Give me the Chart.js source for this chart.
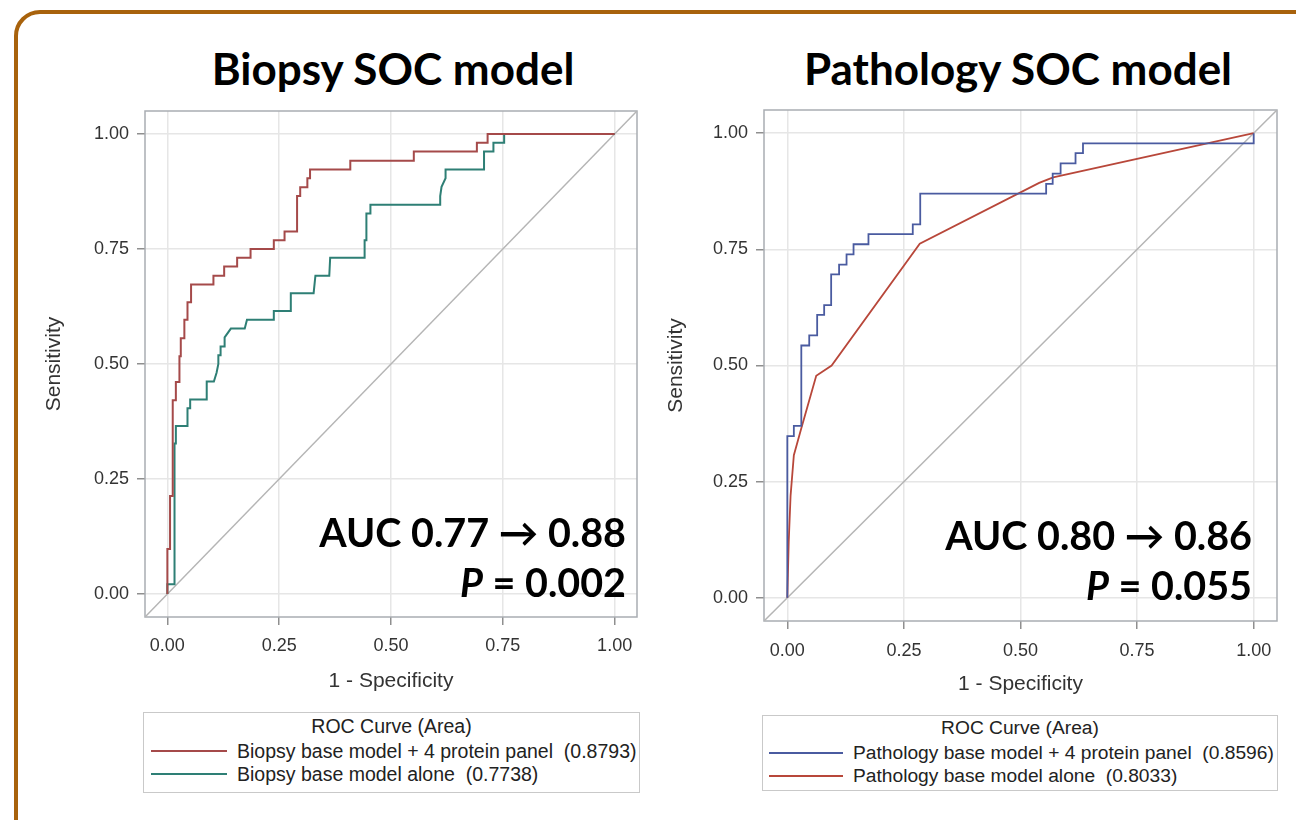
<!DOCTYPE html>
<html>
<head>
<meta charset="utf-8">
<script src="https://cdn.jsdelivr.net/npm/chart.js@4.4.1/dist/chart.umd.min.js"></script>
<style>
  body { margin: 0; width: 1296px; height: 820px; overflow: hidden; background: #fff; font-family: "Liberation Sans", Arial, sans-serif; }
  #border { position: absolute; left: 14px; top: 10px; width: 1400px; height: 900px; border: 4px solid #a8620c; border-radius: 26px; box-sizing: border-box; }
  .title { position: absolute; top: 40px; width: 600px; text-align: center; font: bold 44px Lato, "Open Sans", sans-serif; color: #000; line-height: 56px; }
  canvas { position: absolute; }
  .auc { position: absolute; width: 420px; text-align: right; font: bold 39.5px Lato, "Open Sans", sans-serif; color: #000; line-height: 50px; }
  .legend { position: absolute; border: 1px solid #c9c9c9; box-sizing: border-box; font-size: 19.5px; color: #222; }
  .legend .head { position: absolute; left: 0; right: 0; text-align: center; line-height: 22px; }
  .legend .item { position: absolute; line-height: 22px; white-space: pre; }
  .legend .swatch { position: absolute; height: 0; border-top: 2px solid; }
</style>
</head>
<body>
<div id="border"></div>

<div class="title" style="left:93px;">Biopsy SOC model</div>
<div class="title" style="left:718px;">Pathology SOC model</div>

<canvas id="left" width="640" height="600" style="left:20px; top:100px;"></canvas>
<canvas id="right" width="640" height="600" style="left:656px; top:100px;"></canvas>

<div class="auc" style="left:206px; top:507px;">AUC 0.77 → 0.88<br><i>P</i> = 0.002</div>
<div class="auc" style="left:832px; top:510px;">AUC 0.80 → 0.86<br><i>P</i> = 0.055</div>

<div class="legend" style="left:143px; top:712px; width:497px; height:81px;">
  <div class="head" style="top:2px;">ROC Curve (Area)</div>
  <div class="swatch" style="left:7px; width:76px; top:37px; border-color:#a54a4a;"></div>
  <div class="item" style="left:93px; top:27px;">Biopsy base model + 4 protein panel  (0.8793)</div>
  <div class="swatch" style="left:7px; width:76px; top:60px; border-color:#2e7f75;"></div>
  <div class="item" style="left:93px; top:50px;">Biopsy base model alone  (0.7738)</div>
</div>

<div class="legend" style="left:762px; top:715px; width:516px; height:76px; font-size:19.2px;">
  <div class="head" style="top:1px;">ROC Curve (Area)</div>
  <div class="swatch" style="left:6px; width:74px; top:36px; border-color:#4a5ba0;"></div>
  <div class="item" style="left:90px; top:26px;">Pathology base model + 4 protein panel  (0.8596)</div>
  <div class="swatch" style="left:6px; width:74px; top:59px; border-color:#b8473a;"></div>
  <div class="item" style="left:90px; top:49px;">Pathology base model alone  (0.8033)</div>
</div>

<script>
// axis setup
const tickValues = [0, 0.25, 0.5, 0.75, 1];
const axisMin = -0.05;
const axisMax = 1.05;
const chanceLine = [[-0.05, -0.05], [1.05, 1.05]];

// biopsy SOC model curves (1 - specificity, sensitivity)
const biopsyPanel = [
  [0, 0], [0, 0.098], [0.006, 0.098], [0.006, 0.213], [0.012, 0.213], [0.012, 0.421],
  [0.019, 0.421], [0.019, 0.461], [0.027, 0.461], [0.027, 0.517], [0.030, 0.517], [0.030, 0.556],
  [0.038, 0.556], [0.038, 0.596], [0.045, 0.596], [0.045, 0.634], [0.053, 0.634], [0.053, 0.673],
  [0.103, 0.673], [0.103, 0.692], [0.127, 0.692], [0.127, 0.712], [0.156, 0.712], [0.156, 0.731],
  [0.186, 0.731], [0.186, 0.750], [0.238, 0.750], [0.238, 0.769], [0.262, 0.769], [0.262, 0.788],
  [0.290, 0.788], [0.290, 0.865], [0.297, 0.865], [0.297, 0.884], [0.313, 0.884], [0.313, 0.904],
  [0.319, 0.904], [0.319, 0.923], [0.409, 0.923], [0.409, 0.942], [0.551, 0.942], [0.551, 0.962],
  [0.692, 0.962], [0.692, 0.981], [0.716, 0.981], [0.716, 1], [1, 1]
];
const biopsyBase = [
  [0, 0], [0, 0.021], [0.016, 0.021], [0.016, 0.327], [0.019, 0.327], [0.019, 0.365],
  [0.045, 0.365], [0.045, 0.404], [0.051, 0.404], [0.051, 0.423], [0.088, 0.423], [0.088, 0.462],
  [0.104, 0.462], [0.110, 0.481], [0.114, 0.500], [0.114, 0.519], [0.119, 0.519], [0.119, 0.538],
  [0.128, 0.538], [0.128, 0.558], [0.142, 0.577], [0.173, 0.577], [0.178, 0.596], [0.238, 0.596],
  [0.238, 0.615], [0.276, 0.615], [0.276, 0.654], [0.327, 0.654], [0.331, 0.692], [0.362, 0.692],
  [0.364, 0.731], [0.441, 0.731], [0.441, 0.769], [0.445, 0.769], [0.445, 0.827], [0.454, 0.827],
  [0.454, 0.846], [0.610, 0.846], [0.610, 0.865], [0.613, 0.885], [0.622, 0.904], [0.622, 0.923],
  [0.708, 0.923], [0.708, 0.962], [0.729, 0.962], [0.729, 0.981], [0.753, 0.981], [0.753, 1], [1, 1]
];

// pathology SOC model curves
const pathPanel = [
  [0, 0], [0, 0.348], [0.014, 0.348], [0.014, 0.370], [0.030, 0.370], [0.030, 0.543],
  [0.047, 0.543], [0.047, 0.565], [0.064, 0.565], [0.064, 0.609], [0.079, 0.609], [0.079, 0.630],
  [0.094, 0.630], [0.094, 0.696], [0.111, 0.696], [0.111, 0.717], [0.127, 0.717], [0.127, 0.739],
  [0.142, 0.739], [0.142, 0.761], [0.174, 0.761], [0.174, 0.783], [0.269, 0.783], [0.269, 0.804],
  [0.285, 0.804], [0.285, 0.870], [0.555, 0.870], [0.555, 0.891], [0.569, 0.891], [0.569, 0.913],
  [0.586, 0.913], [0.586, 0.935], [0.618, 0.935], [0.618, 0.957], [0.634, 0.957], [0.634, 0.978],
  [1, 0.978], [1, 1]
];
const pathBase = [
  [0, 0], [0.003, 0.12], [0.007, 0.22], [0.014, 0.307], [0.030, 0.365], [0.062, 0.478],
  [0.095, 0.500], [0.284, 0.762], [0.540, 0.893], [0.570, 0.905], [1, 1]
];

const fontFamily = '"Liberation Sans", Arial, sans-serif';

function toPoints(arr) {
  return arr.map((p) => ({ x: p[0], y: p[1] }));
}

// full box round the plot area, like the SAS wall
const framePlugin = {
  id: 'frame',
  beforeDatasetsDraw(chart) {
    let a = chart.chartArea;
    let ctx = chart.ctx;
    ctx.save();
    ctx.strokeStyle = '#a9adb2';
    ctx.lineWidth = 1.5;
    ctx.strokeRect(a.left, a.top, a.right - a.left, a.bottom - a.top);
    ctx.restore();
  }
};

function curve(data, color, width) {
  return {
    data: toPoints(data),
    borderColor: color,
    borderWidth: width,
    pointRadius: 0,
    showLine: true,
    tension: 0,
    fill: false,
  };
}

function axis(box, isX) {
  return {
    type: 'linear',
    min: axisMin,
    max: axisMax,
    afterBuildTicks: (s) => { s.ticks = tickValues.map((v) => ({ value: v })); },
    afterFit: (s) => {
      // fixed axis boxes so the plot wall lands where it should
      if (isX) {
        s.height = box.xHeight;
        s.paddingLeft = 0;
        s.paddingRight = 0;
      } else {
        s.width = box.yWidth;
        s.paddingTop = 0;
        s.paddingBottom = 0;
      }
    },
    grid: { color: '#e6e6e6', lineWidth: 1.5, tickColor: '#8f8f8f', tickLength: 8 },
    border: { display: false },
    ticks: {
      font: { size: 18, family: fontFamily },
      color: '#333',
      padding: isX ? box.xTickPad : 8,
      callback: (v) => Number(v).toFixed(2),
    },
    title: {
      display: true,
      text: isX ? '1 - Specificity' : 'Sensitivity',
      font: { size: 21, family: fontFamily },
      color: '#333',
      padding: isX ? { top: 0, bottom: box.xTitlePad } : { top: box.yTitlePad, bottom: 0 },
    },
  };
}

function makeChart(id, sets, box) {
  let ctx = document.getElementById(id).getContext('2d');
  return new Chart(ctx, {
    type: 'scatter',
    data: { datasets: sets },
    options: {
      responsive: false,
      animation: false,
      layout: { padding: { top: box.top, right: box.right, left: 0, bottom: 0 } },
      plugins: { legend: { display: false }, tooltip: { enabled: false } },
      scales: { x: axis(box, true), y: axis(box, false) },
    },
    plugins: [framePlugin],
  });
}

makeChart('left', [
  curve(biopsyPanel, '#a54a4a', 2),
  curve(biopsyBase, '#2e7f75', 2),
  curve(chanceLine, '#b5b5b5', 1.5),
], { top: 11, right: 23, yWidth: 125, xHeight: 83, xTickPad: 10, yTitlePad: 22, xTitlePad: 6 });

makeChart('right', [
  curve(pathPanel, '#4a5ba0', 1.8),
  curve(pathBase, '#b8473a', 1.8),
  curve(chanceLine, '#b5b5b5', 1.5),
], { top: 10, right: 19, yWidth: 108, xHeight: 79, xTickPad: 11, yTitlePad: 8, xTitlePad: 3 });
</script>
</body>
</html>
